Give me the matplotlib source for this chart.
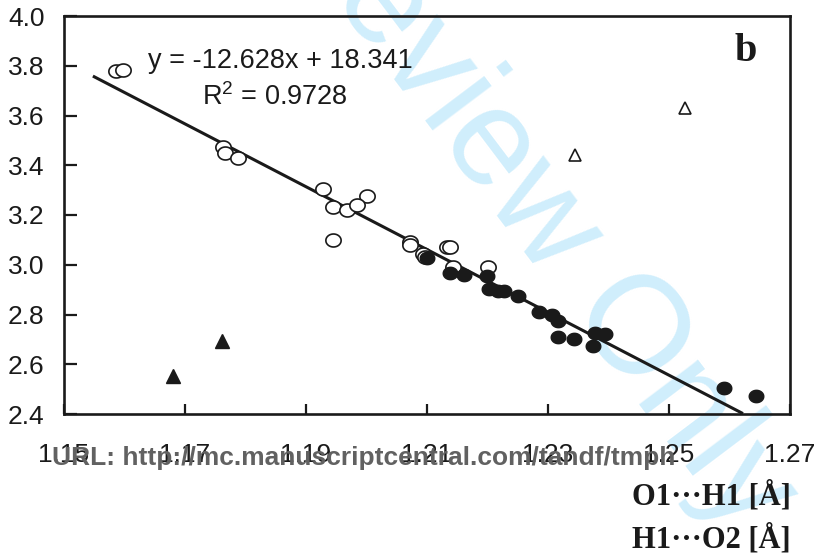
import numpy as np
import matplotlib
matplotlib.use("Agg")
import matplotlib.pyplot as plt
from matplotlib.path import Path

plt.rcParams['font.family'] = ['Liberation Sans', 'DejaVu Sans']
plt.rcParams['mathtext.fontset'] = 'custom'
plt.rcParams['mathtext.rm'] = 'Liberation Sans'

# O1...H1 vs H1...O2 distances
open_x = [1.1586, 1.1598, 1.1763, 1.1766, 1.1788, 1.1928, 1.2001, 1.1945, 1.1968,
          1.1984, 1.1945, 1.2072, 1.2072, 1.2093, 1.2097, 1.2133, 1.2138, 1.2143, 1.2201]
open_y = [3.779, 3.781, 3.473, 3.449, 3.429, 3.304, 3.276, 3.232, 3.220,
          3.240, 3.099, 3.091, 3.079, 3.043, 3.031, 3.071, 3.071, 2.991, 2.991]

filled_x = [1.2100, 1.2138, 1.2161, 1.2199, 1.2203, 1.2217, 1.2227, 1.2250, 1.2285,
            1.2307, 1.2317, 1.2317, 1.2343, 1.2374, 1.2378, 1.2394, 1.2591, 1.2644]
filled_y = [3.027, 2.967, 2.959, 2.955, 2.902, 2.894, 2.894, 2.874, 2.810,
            2.798, 2.774, 2.709, 2.701, 2.673, 2.726, 2.722, 2.504, 2.472]

open_tri_x = [1.2345, 1.2526]
open_tri_y = [3.441, 3.630]
filled_tri_x = [1.1680, 1.1761]
filled_tri_y = [2.553, 2.694]

slope, intercept = -12.628, 18.341
fit_range = [1.155, 1.262]

# slightly flattened circle marker
t = np.linspace(0, 2*np.pi, 60)
ellipse = Path(np.column_stack([np.cos(t), 0.85*np.sin(t)]), closed=True)

fig = plt.figure(figsize=(8.2, 5.54), dpi=100)
ax = fig.add_axes([64/820, 1-414/554, 726/820, 398/554])
ax.set_facecolor('none')

# watermark behind the data
fig.text(270/820, 1 + 84/554, 'Review Only', fontsize=100, color='#d0eefc',
         rotation=-53, rotation_mode='anchor', ha='left', va='baseline', zorder=-5)

xf = np.array(fit_range)
ax.plot(xf, slope*xf + intercept, color='#1a1a1a', lw=2.2, zorder=2)

ax.plot(open_x, open_y, ls='none', marker=ellipse, ms=11, mfc='white', mec='#1a1a1a', mew=1.2, zorder=3)
ax.plot(filled_x, filled_y, ls='none', marker=ellipse, ms=10.5, mfc='#1a1a1a', mec='#1a1a1a', zorder=3)
ax.plot(open_tri_x, open_tri_y, '^', ms=9, mfc='white', mec='#1a1a1a', mew=1.2, zorder=3)
ax.plot(filled_tri_x, filled_tri_y, '^', ms=10.5, mfc='#1a1a1a', mec='#1a1a1a', zorder=3)

ax.set_xlim(1.15, 1.27)
ax.set_ylim(2.4, 4.0)
ax.set_xticks(np.arange(1.15, 1.271, 0.02))
ax.set_yticks(np.arange(2.4, 4.01, 0.2))
ax.xaxis.set_major_formatter(matplotlib.ticker.FormatStrFormatter('%.2f'))
ax.yaxis.set_major_formatter(matplotlib.ticker.FormatStrFormatter('%.1f'))
ax.tick_params(axis='x', direction='in', length=7, width=1.6, labelsize=19, pad=21, colors='#1a1a1a')
ax.tick_params(axis='y', direction='in', length=9, width=1.6, labelsize=19, pad=14, colors='#1a1a1a')
for s in ax.spines.values():
    s.set_linewidth(1.9)
    s.set_color('#1a1a1a')

ax.text(0.1157, 0.887, 'y = -12.628x + 18.341', transform=ax.transAxes,
        fontsize=19.5, ha='left', va='center', color='#1a1a1a')
ax.text(0.190, 0.796, r'R$^{2}$ = 0.9728', transform=ax.transAxes,
        fontsize=19.5, ha='left', va='center', color='#1a1a1a')
ax.text(0.939, 0.912, 'b', transform=ax.transAxes, fontsize=29, fontweight='bold',
        family='Liberation Serif', ha='center', va='center', color='#1a1a1a')

fig.text(791/820, 1-496/554, 'O1\u00b7\u00b7\u00b7H1 [\u00c5]', fontsize=22, fontweight='bold',
         family='Liberation Serif', ha='right', va='center', color='#1a1a1a')
fig.text(791/820, 1-539/554, 'H1\u00b7\u00b7\u00b7O2 [\u00c5]', fontsize=22, fontweight='bold',
         family='Liberation Serif', ha='right', va='center', color='#1a1a1a')

fig.text(52/820, 1-458/554, 'URL: http://mc.manuscriptcentral.com/tandf/tmph', fontsize=19,
         fontweight='bold', color='#616161', ha='left', va='center', zorder=10)

fig.savefig('out.png', dpi=100)
